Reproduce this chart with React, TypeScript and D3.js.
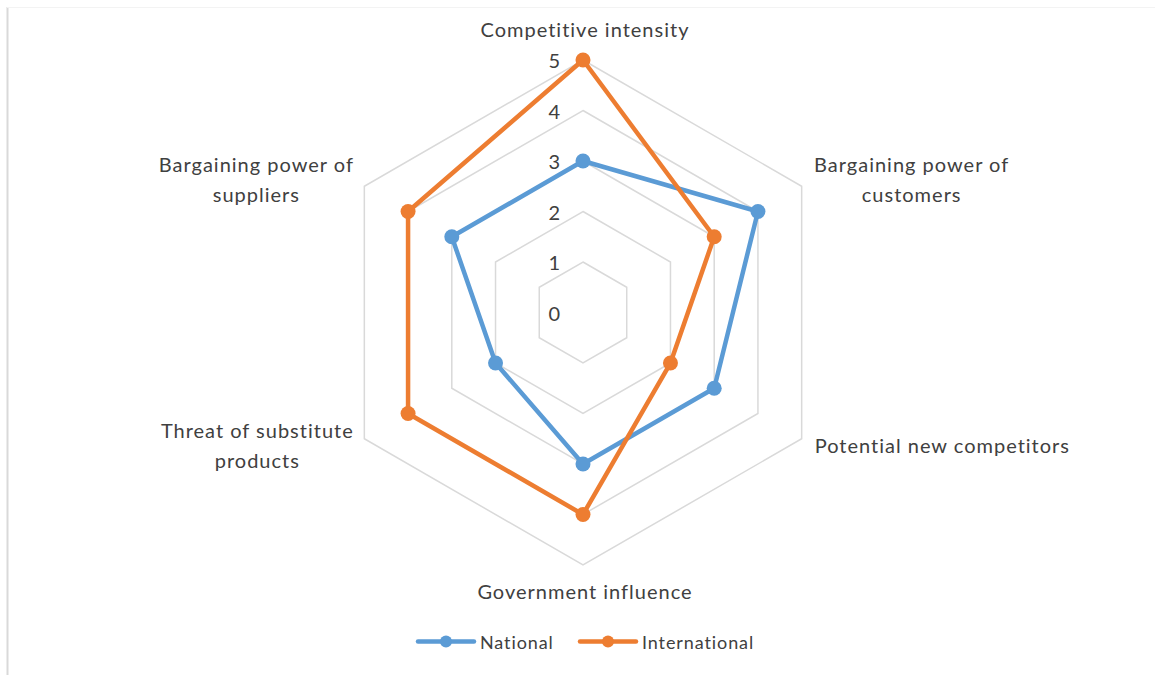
import { useMemo } from 'react'
import * as d3 from 'd3'

const W = 1155
const H = 675
const CX = 583
const CY = 312.5
const R = 252.5

const categories = [
  'Competitive intensity',
  'Bargaining power of customers',
  'Potential new competitors',
  'Government influence',
  'Threat of substitute products',
  'Bargaining power of suppliers',
]
// label lines as Excel wraps them
const labelLines = [
  ['Competitive intensity'],
  ['Bargaining power of', 'customers'],
  ['Potential new competitors'],
  ['Government influence'],
  ['Threat of substitute', 'products'],
  ['Bargaining power of', 'suppliers'],
]
const national = [3, 4, 3, 3, 2, 3]
const international = [5, 3, 2, 4, 4, 4]
const ticks = [0, 1, 2, 3, 4, 5]

const BLUE = '#5B9BD5'
const ORANGE = '#ED7D31'
const GRID = '#d9d9d9'
const TEXT = '#404040'
const FONT = 'Lato, "Open Sans", sans-serif'

// label placement relative to the outer vertex (layout only)
const labelOffset = [
  { dx: 2, dy: -23, anchor: 'middle' },
  { dx: 110, dy: -14, anchor: 'middle' },
  { dx: 13, dy: 14, anchor: 'start' },
  { dx: 2, dy: 34, anchor: 'middle' },
  { dx: -107, dy: -1, anchor: 'middle' },
  { dx: -108, dy: -14, anchor: 'middle' },
]

export default function App() {
  const r = useMemo(() => d3.scaleLinear().domain([0, 5]).range([0, R]), [])
  const step = (2 * Math.PI) / categories.length
  const pt = (i: number, v: number): [number, number] => {
    const a = i * step - Math.PI / 2
    return [CX + r(v) * Math.cos(a), CY + r(v) * Math.sin(a)]
  }

  const ring = (v: number) =>
    d3.line().curve(d3.curveLinearClosed)(categories.map((_, i) => pt(i, v))) as string

  const seriesPath = (vals: number[]) =>
    d3.line().curve(d3.curveLinearClosed)(vals.map((v, i) => pt(i, v))) as string

  const series = [
    { name: 'National', vals: national, color: BLUE },
    { name: 'International', vals: international, color: ORANGE },
  ]

  return (
    <div style={{ position: 'fixed', left: 0, top: 0, width: W, height: H, background: '#fff' }}>
      <svg width={W} height={H} style={{ display: 'block' }}>
        <rect x={0} y={0} width={W} height={H} fill="#fff" />
        <line x1={7.5} y1={7} x2={7.5} y2={H} stroke={GRID} strokeWidth={2} />
        <line x1={7} y1={7.5} x2={W} y2={7.5} stroke="#f3f3f3" strokeWidth={1} />

        {ticks.filter(t => t > 0).map(t => (
          <path key={t} d={ring(t)} fill="none" stroke={GRID} strokeWidth={1.5} />
        ))}

        {series.map(s => (
          <g key={s.name}>
            <path d={seriesPath(s.vals)} fill="none" stroke={s.color} strokeWidth={4.5} strokeLinejoin="round" />
            {s.vals.map((v, i) => {
              const [x, y] = pt(i, v)
              return <circle key={i} cx={x} cy={y} r={7.5} fill={s.color} />
            })}
          </g>
        ))}

        {ticks.map(t => (
          <text key={t} x={CX - 23} y={CY - r(t)} textAnchor="end" dominantBaseline="central"
            fontFamily={FONT} fontSize={20} fill={TEXT}>{t}</text>
        ))}

        {labelLines.map((lines, i) => {
          const [vx, vy] = pt(i, 5)
          const o = labelOffset[i]
          return (
            <text key={i} x={vx + o.dx} y={vy + o.dy} textAnchor={o.anchor as any}
              fontFamily={FONT} fontSize={20} letterSpacing={1} fill={TEXT}>
              {lines.map((l, j) => (
                <tspan key={j} x={vx + o.dx} dy={j === 0 ? 0 : 30}>{l}</tspan>
              ))}
            </text>
          )
        })}

        {series.map((s, k) => {
          const x0 = k === 0 ? 418 : 580
          return (
            <g key={s.name} transform={`translate(${x0},641.5)`}>
              <line x1={0} x2={56} y1={0} y2={0} stroke={s.color} strokeWidth={4.5} strokeLinecap="round" />
              <circle cx={28} cy={0} r={6} fill={s.color} />
              <text x={62} y={0} dominantBaseline="central" fontFamily={FONT} fontSize={18}
                letterSpacing={0.9} fill={TEXT}>{s.name}</text>
            </g>
          )
        })}
      </svg>
    </div>
  )
}
